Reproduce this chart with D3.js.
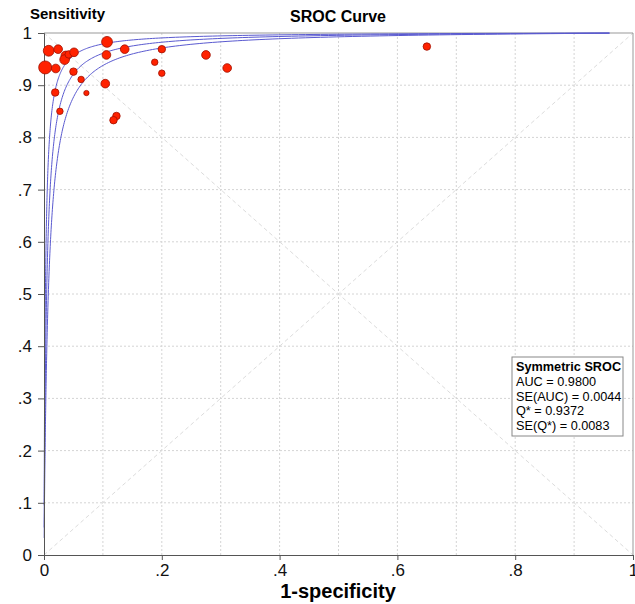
<!DOCTYPE html>
<html>
<head>
<meta charset="utf-8">
<script src="https://cdn.jsdelivr.net/npm/d3@7"></script>
<style>
body { margin: 0; background: #fff; }
text { font-family: "Liberation Sans", Arial, sans-serif; }
</style>
</head>
<body>
<script>
// study points: 1-specificity, sensitivity, study weight
var fpr = [0.008, 0.024, 0.002, 0.020, 0.037, 0.035, 0.042, 0.051, 0.050, 0.063,
    0.072, 0.019, 0.027, 0.107, 0.106, 0.104, 0.123, 0.118, 0.137, 0.188,
    0.200, 0.200, 0.275, 0.311, 0.650];
var tpr = [0.966, 0.969, 0.934, 0.932, 0.956, 0.949, 0.959, 0.963, 0.926, 0.911,
    0.885, 0.886, 0.850, 0.983, 0.958, 0.903, 0.841, 0.833, 0.969, 0.944,
    0.969, 0.923, 0.958, 0.933, 0.974];
var weight = [25, 16, 36, 16, 20, 20, 12, 16, 12, 9,
    6, 12, 9, 25, 16, 16, 12, 12, 16, 9,
    12, 9, 16, 16, 12];

// symmetric SROC: Q* with lower / upper band
var qStar = [0.9209, 0.9372, 0.9535];
var xTicks = [0, 0.2, 0.4, 0.6, 0.8, 1];
var yTicks = [0, 0.1, 0.2, 0.3, 0.4, 0.5, 0.6, 0.7, 0.8, 0.9, 1];
var legendLines = ["AUC = 0.9800", "SE(AUC) = 0.0044", "Q* = 0.9372", "SE(Q*) = 0.0083"];

var svg = d3.select("body")
    .append("svg")
    .attr("width", 635)
    .attr("height", 604)
    .style("display", "block");

var pLeft = 44, pRight = 633, pTop = 33, pBottom = 555;

var x = d3.scaleLinear().domain([0, 1]).range([pLeft, pRight]);
var y = d3.scaleLinear().domain([0, 1]).range([pBottom, pTop]);
var r = d3.scaleSqrt().domain([0, 36]).range([0, 6.5]);

var tenths = d3.range(1, 10).map(function (d) { return d / 10; });
var grid = svg.append("g");
grid.selectAll(".vg")
    .data(tenths)
    .enter()
    .append("line")
    .attr("x1", function (d) { return x(d); })
    .attr("x2", function (d) { return x(d); })
    .attr("y1", y(0))
    .attr("y2", y(1))
    .attr("stroke", "#d4d4d4")
    .attr("stroke-dasharray", "2,2");
grid.selectAll(".hg")
    .data(tenths)
    .enter()
    .append("line")
    .attr("y1", function (d) { return y(d); })
    .attr("y2", function (d) { return y(d); })
    .attr("x1", x(0))
    .attr("x2", x(1))
    .attr("stroke", "#d4d4d4")
    .attr("stroke-dasharray", "2,2");

// diagonals
svg.append("line")
    .attr("x1", x(0)).attr("y1", y(0)).attr("x2", x(1)).attr("y2", y(1))
    .attr("stroke", "#dcdcdc").attr("stroke-dasharray", "4,3");
svg.append("line")
    .attr("x1", x(0)).attr("y1", y(1)).attr("x2", x(1)).attr("y2", y(0))
    .attr("stroke", "#dcdcdc").attr("stroke-dasharray", "4,3");

// frame
svg.append("line").attr("x1", x(0)).attr("x2", x(1)).attr("y1", y(1)).attr("y2", y(1))
    .attr("stroke", "#999");
svg.append("line").attr("x1", x(1)).attr("x2", x(1)).attr("y1", y(0)).attr("y2", y(1))
    .attr("stroke", "#999");

// SROC curves
var fGrid = d3.range(0, 301).map(function (i) {
    return Math.exp(Math.log(0.00025) + i * (Math.log(0.96) - Math.log(0.00025)) / 300);
});
var line = d3.line()
    .x(function (d) { return x(d[0]); })
    .y(function (d) { return y(d[1]); });
qStar.forEach(function (q) {
    var dor = Math.pow(q / (1 - q), 2);
    var pts = fGrid.map(function (f) {
        var o = dor * f / (1 - f);
        return [f, o / (1 + o)];
    });
    svg.append("path")
        .attr("d", line(pts))
        .attr("fill", "none")
        .attr("stroke", "#5a5ad0")
        .attr("stroke-width", 1);
});

function fmt(d) {
    return d == 0 || d == 1 ? String(d) : d3.format(".1f")(d).replace("0.", ".");
}

// axes
var yAxis = d3.axisLeft(y)
    .tickValues(yTicks)
    .tickSize(6)
    .tickPadding(6)
    .tickFormat(fmt);
var gy = svg.append("g")
    .attr("transform", "translate(" + pLeft + ",0)")
    .call(yAxis);
gy.select(".domain").attr("stroke", "#555");
gy.selectAll(".tick line").attr("stroke", "#555");
gy.selectAll("text").style("font-size", "17px").attr("fill", "#111");

var xAxis = d3.axisBottom(x)
    .tickValues(xTicks)
    .tickSize(5)
    .tickPadding(4)
    .tickFormat(fmt);
var gx = svg.append("g")
    .attr("transform", "translate(0," + pBottom + ")")
    .call(xAxis);
gx.select(".domain").attr("stroke", "#555");
gx.selectAll(".tick line").attr("stroke", "#555");
gx.selectAll("text").style("font-size", "17px").attr("fill", "#111");

// study points
svg.selectAll(".pt")
    .data(fpr)
    .enter()
    .append("circle")
    .attr("cx", function (d) { return x(d); })
    .attr("cy", function (d, i) { return y(tpr[i]); })
    .attr("r", function (d, i) { return r(weight[i]); })
    .attr("fill", "#ff2200")
    .attr("stroke", "#a01000")
    .attr("stroke-width", 0.8);

// titles
svg.append("text")
    .attr("x", 30)
    .attr("y", 19)
    .text("Sensitivity")
    .style("font-size", "15px")
    .style("font-weight", "bold");
svg.append("text")
    .attr("x", 338)
    .attr("y", 22)
    .attr("text-anchor", "middle")
    .text("SROC Curve")
    .style("font-size", "16px")
    .style("font-weight", "bold");
svg.append("text")
    .attr("x", 338)
    .attr("y", 598)
    .attr("text-anchor", "middle")
    .text("1-specificity")
    .style("font-size", "20px")
    .style("font-weight", "bold");

// legend box
var lg = svg.append("g").attr("transform", "translate(512,357)");
lg.append("rect")
    .attr("width", 111)
    .attr("height", 79)
    .attr("fill", "#fff")
    .attr("stroke", "#888");
lg.append("text")
    .attr("x", 4)
    .attr("y", 14)
    .text("Symmetric SROC")
    .style("font-size", "12.7px")
    .style("font-weight", "bold");
lg.selectAll(".ll")
    .data(legendLines)
    .enter()
    .append("text")
    .attr("x", 4)
    .attr("y", function (d, i) { return 29 + i * 14.7; })
    .text(function (d) { return d; })
    .style("font-size", "12.7px");
</script>
</body>
</html>
